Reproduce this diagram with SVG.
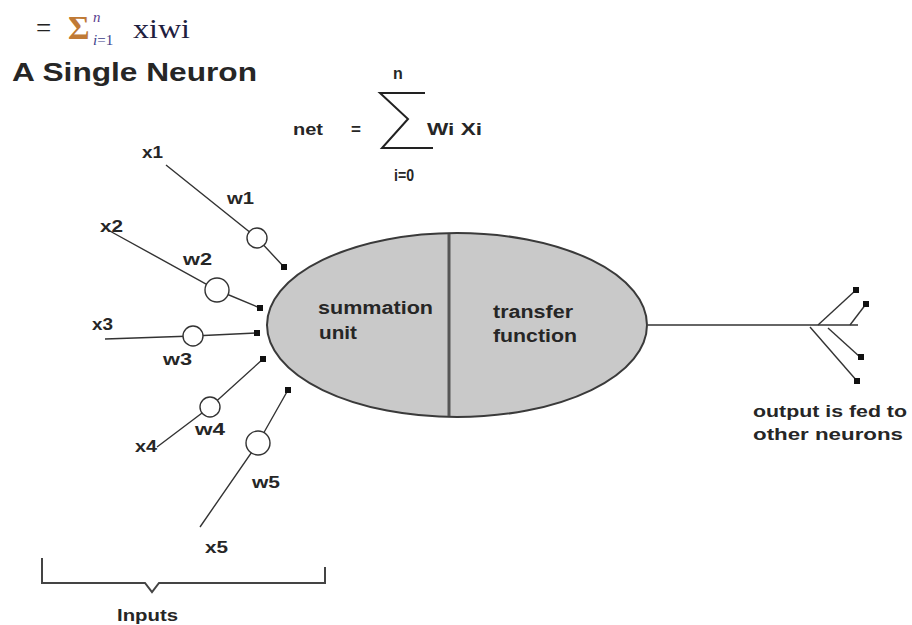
<svg xmlns="http://www.w3.org/2000/svg" width="912" height="625" viewBox="0 0 912 625">
<defs>
<style>
.t{font-family:"Liberation Sans",Arial,sans-serif;font-weight:bold;fill:#262626}
.lbl{font-size:16px}
.m{font-family:"Liberation Serif","DejaVu Serif",serif}
.ln{stroke:#333;stroke-width:1.4;fill:none}
.w{fill:#fff;stroke:#333;stroke-width:1.4}
.sq{fill:#111}
</style>
</defs>
<rect width="912" height="625" fill="#fff"/>

<g id="header-formula">
<text class="m" x="36" y="37" font-size="27" fill="#222">=</text>
<text class="m" x="68" y="39" font-size="33" font-weight="bold" fill="#c07a35">Σ</text>
<text class="m" x="93" y="22" font-size="15" font-style="italic" fill="#5b3f8f">n</text>
<text class="m" x="93" y="45" font-size="15" fill="#3d3f8a"><tspan font-style="italic">i</tspan>=1</text>
<text class="m" x="133" y="38" font-size="27" textLength="57" lengthAdjust="spacingAndGlyphs" fill="#1e2040">xiwi</text>
</g>

<g id="title">
<text class="t" x="12" y="81" font-size="25" textLength="245" lengthAdjust="spacingAndGlyphs" fill="#151515">A Single Neuron</text>
</g>

<g id="net-formula">
<text class="t" x="293" y="135" font-size="17" textLength="30" lengthAdjust="spacingAndGlyphs">net</text>
<text class="t" x="351" y="135" font-size="17">=</text>
<path d="M425,93 H380 L408,119 L382,148 H433" fill="none" stroke="#222" stroke-width="2"/>
<text class="t" x="393" y="79" font-size="16">n</text>
<text class="t" x="427" y="135" font-size="17" textLength="55" lengthAdjust="spacingAndGlyphs">Wi Xi</text>
<text class="t" x="394" y="181" font-size="16" textLength="20" lengthAdjust="spacingAndGlyphs">i=0</text>
</g>

<g id="connectors">
<polyline class="ln" points="166,165 257,238 284,267"/>
<polyline class="ln" points="108,230 217,290 260,308"/>
<polyline class="ln" points="105,339 193,336 257,333"/>
<polyline class="ln" points="157,447 210,407 263,359"/>
<polyline class="ln" points="200,527 258,443 288,390"/>
<line class="ln" x1="648" y1="325" x2="858" y2="325"/>
<line class="ln" x1="818" y1="325" x2="856" y2="290"/>
<line class="ln" x1="850" y1="325" x2="866" y2="304"/>
<line class="ln" x1="828" y1="328" x2="860" y2="357"/>
<line class="ln" x1="810" y1="327" x2="857" y2="381"/>
</g>

<g id="neuron">
<ellipse cx="457" cy="325" rx="190" ry="92" fill="#c9c9c9" stroke="#3a3a3a" stroke-width="2"/>
<line x1="449" y1="234" x2="449" y2="416" stroke="#555" stroke-width="3"/>
<text class="t" x="318" y="314" font-size="18" textLength="115" lengthAdjust="spacingAndGlyphs">summation</text>
<text class="t" x="319" y="339" font-size="18" textLength="38" lengthAdjust="spacingAndGlyphs">unit</text>
<text class="t" x="493" y="318" font-size="18" textLength="80" lengthAdjust="spacingAndGlyphs">transfer</text>
<text class="t" x="493" y="342" font-size="18" textLength="84" lengthAdjust="spacingAndGlyphs">function</text>
</g>

<g id="input-x1">
<circle class="w" cx="257" cy="238" r="10"/>
<rect class="sq" x="281" y="264" width="6" height="6"/>
<text class="t lbl" x="142" y="158" textLength="21" lengthAdjust="spacingAndGlyphs">x1</text>
<text class="t lbl" x="227" y="204" textLength="27" lengthAdjust="spacingAndGlyphs">w1</text>
</g>
<g id="input-x2">
<circle class="w" cx="217" cy="290" r="12"/>
<rect class="sq" x="257" y="305" width="6" height="6"/>
<text class="t lbl" x="100" y="232" textLength="23" lengthAdjust="spacingAndGlyphs">x2</text>
<text class="t lbl" x="183" y="265" textLength="29" lengthAdjust="spacingAndGlyphs">w2</text>
</g>
<g id="input-x3">
<circle class="w" cx="193" cy="336" r="10"/>
<rect class="sq" x="254" y="330" width="6" height="6"/>
<text class="t lbl" x="92" y="330" textLength="21" lengthAdjust="spacingAndGlyphs">x3</text>
<text class="t lbl" x="163" y="365" textLength="29" lengthAdjust="spacingAndGlyphs">w3</text>
</g>
<g id="input-x4">
<circle class="w" cx="210" cy="407" r="10"/>
<rect class="sq" x="260" y="356" width="6" height="6"/>
<text class="t lbl" x="135" y="452" textLength="22" lengthAdjust="spacingAndGlyphs">x4</text>
<text class="t lbl" x="195" y="435" textLength="30" lengthAdjust="spacingAndGlyphs">w4</text>
</g>
<g id="input-x5">
<circle class="w" cx="258" cy="443" r="12"/>
<rect class="sq" x="285" y="387" width="6" height="6"/>
<text class="t lbl" x="252" y="488" textLength="28" lengthAdjust="spacingAndGlyphs">w5</text>
<text class="t lbl" x="205" y="553" textLength="23" lengthAdjust="spacingAndGlyphs">x5</text>
</g>

<g id="output">
<rect class="sq" x="853" y="287" width="6" height="6"/>
<rect class="sq" x="863" y="301" width="6" height="6"/>
<rect class="sq" x="858" y="354" width="6" height="6"/>
<rect class="sq" x="854" y="378" width="6" height="6"/>
<text class="t" x="753" y="417" font-size="17" textLength="154" lengthAdjust="spacingAndGlyphs">output is fed to</text>
<text class="t" x="753" y="440" font-size="17" textLength="150" lengthAdjust="spacingAndGlyphs">other neurons</text>
</g>

<g id="inputs-bracket">
<path d="M42,558 V583 H145 L152,592 L159,583 H325 V567" fill="none" stroke="#444" stroke-width="2"/>
<text class="t" x="117" y="621" font-size="16" textLength="61" lengthAdjust="spacingAndGlyphs">Inputs</text>
</g>
</svg>
